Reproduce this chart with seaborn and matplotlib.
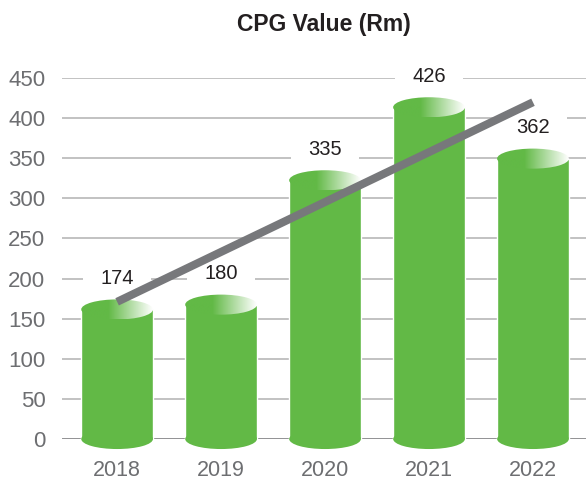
import numpy as np
import matplotlib
matplotlib.use("Agg")
import matplotlib.pyplot as plt
from matplotlib.patches import Ellipse
from matplotlib.colors import LinearSegmentedColormap
import seaborn as sns

# Datos
years = ['2018', '2019', '2020', '2021', '2022']
values = [174, 180, 335, 426, 362]
y_ticks = [0, 50, 100, 150, 200, 250, 300, 350, 400, 450]

green = '#62b946'
grey_txt = '#6d6e71'
dark_txt = '#231f20'
cap = 12.5  # media altura de la elipse del cilindro (unidades de datos)

sns.set_style('white')
plt.rcParams['font.family'] = ['Liberation Sans', 'DejaVu Sans']

fig = plt.figure(figsize=(5.86, 4.8), dpi=100)
ax = fig.add_axes([62 / 586, 41 / 480, 524 / 586, 361 / 480])

# cuerpo de los cilindros
body = [v - cap for v in values]
sns.barplot(x=years, y=body, color=green, saturation=1, width=0.69,
            ax=ax, zorder=2)

# tapas de los cilindros
cmap = LinearSegmentedColormap.from_list('cap', [green, green, 'white'],)
t = np.linspace(0, 1, 200)
grad = np.clip((t - 0.38) / 0.62, 0, 1)[None, :]
for p in ax.patches[:len(values)]:
    x0, w, h = p.get_x(), p.get_width(), p.get_height()
    xc = x0 + w / 2
    bottom = Ellipse((xc, 0), w, 2 * cap, fc=green, ec='none', zorder=2,
                     clip_on=False)
    ax.add_patch(bottom)
    top = Ellipse((xc, h), w, 2 * cap, fc='none', ec='none', zorder=3)
    ax.add_patch(top)
    im = ax.imshow(grad, cmap=LinearSegmentedColormap.from_list('g', [green, 'white']),
                   extent=[x0, x0 + w, h - cap, h + cap], aspect='auto',
                   zorder=3, interpolation='bilinear')
    im.set_clip_path(top)

# linea de tendencia
xs = np.arange(len(values))
sns.regplot(x=xs, y=values, scatter=False, ci=None, truncate=True, ax=ax,
            line_kws=dict(color='#77787b', lw=5.8, solid_capstyle='butt',
                          zorder=5))

# etiquetas de valores
for i, v in enumerate(values):
    ax.text(i, v + 26, str(v), ha='center', va='center', fontsize=14.5,
            color=dark_txt, zorder=1.8,
            bbox=dict(boxstyle='square,pad=0.85', fc='white', ec='none'))

ax.set_xlim(-0.53, 4.51)
ax.set_ylim(0, 450)
ax.set_yticks(y_ticks)
ax.set_xticks(range(len(years)))
ax.set_xticklabels(years)
ax.set_xlabel('')
ax.set_ylabel('')
ax.tick_params(axis='y', length=0, pad=12, labelsize=16, labelcolor=grey_txt)
ax.tick_params(axis='x', length=0, pad=15, labelsize=15.5, labelcolor=grey_txt)
ax.set_axisbelow(True)
ax.yaxis.grid(True, color='#b8b8b8', lw=1.2)
ax.axhline(0, color='#8f8f91', lw=2, zorder=1)
sns.despine(ax=ax, left=True, bottom=True)

fig.text(324 / 586, 1 - 25 / 480, 'CPG Value (Rm)', ha='center', va='center',
         fontsize=16.5, fontweight='bold', color=dark_txt)

fig.savefig('out.png', dpi=100)
